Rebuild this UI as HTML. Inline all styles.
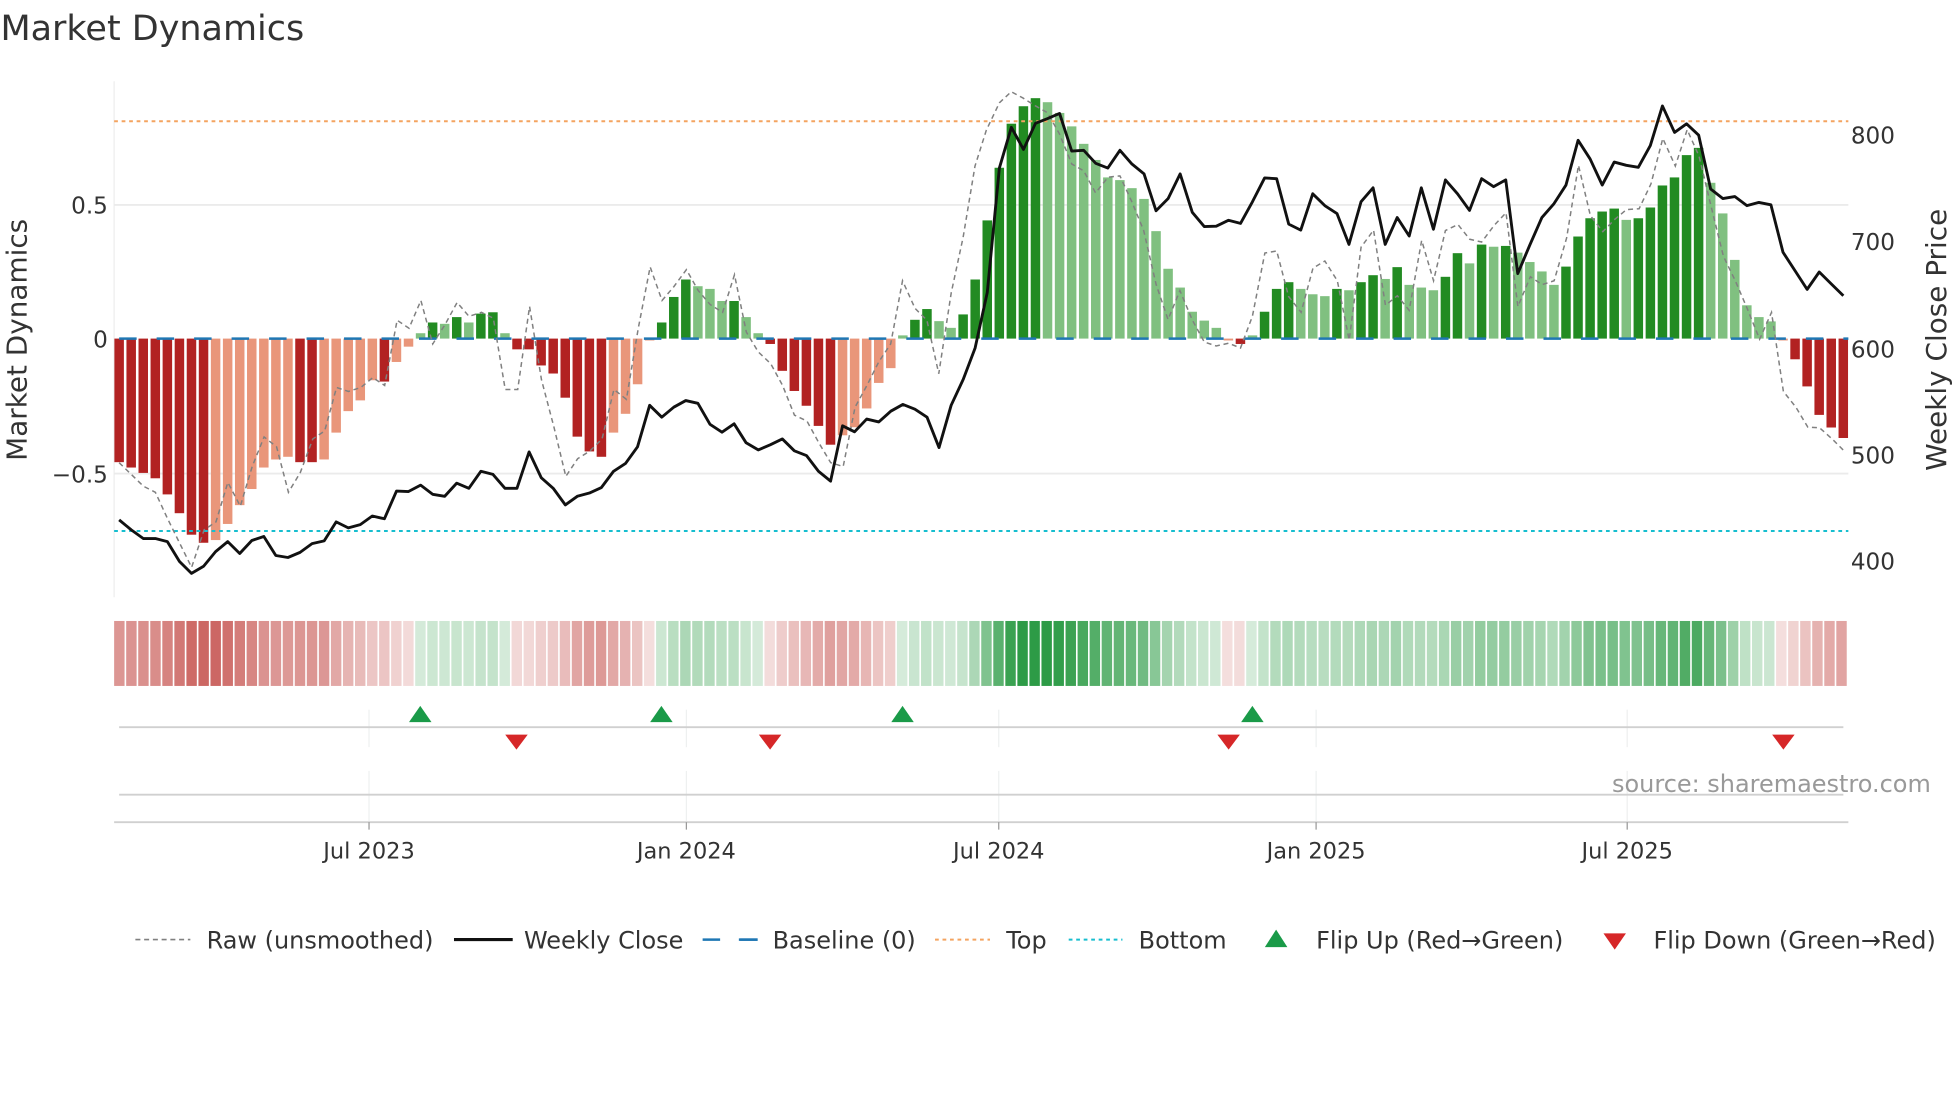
<!DOCTYPE html>
<html><head><meta charset="utf-8"><style>
html,body{margin:0;padding:0;background:#fff;}
svg{display:block;font-family:"DejaVu Sans","Liberation Sans",sans-serif;}
</style></head><body>
<svg id="s" width="1960" height="1102" viewBox="0 0 1568 882" xmlns="http://www.w3.org/2000/svg">
<rect width="1568" height="882" fill="#fff"/>
<text x="0" y="32" font-size="28" fill="#333">Market Dynamics</text>
<line x1="91" y1="65" x2="91" y2="478" stroke="#eee" stroke-width="1"/>
<line x1="91" y1="164" x2="1479" y2="164" stroke="#ebebeb" stroke-width="1.5"/>
<line x1="91" y1="379" x2="1479" y2="379" stroke="#ebebeb" stroke-width="1.5"/>
<g id="bars"></g>
<line x1="91" y1="97" x2="1479" y2="97" stroke="#f4a460" stroke-width="1.6" stroke-dasharray="3,3"/>
<line x1="91" y1="425" x2="1479" y2="425" stroke="#17becf" stroke-width="1.6" stroke-dasharray="3,3"/>
<line x1="91" y1="271" x2="1479" y2="271" stroke="#1f77b4" stroke-width="2" stroke-dasharray="14,16" stroke-dashoffset="-4"/>
<polyline id="raw" fill="none" stroke="#808080" stroke-width="1.2" stroke-dasharray="4,3"/>
<polyline id="price" fill="none" stroke="#111" stroke-width="2.3" stroke-linejoin="round"/>
<g font-size="18.5" fill="#333">
<text x="86" y="171" text-anchor="end">0.5</text>
<text x="86" y="278" text-anchor="end">0</text>
<text x="86" y="386" text-anchor="end">−0.5</text>
<text x="1481" y="115">800</text>
<text x="1481" y="200">700</text>
<text x="1481" y="286">600</text>
<text x="1481" y="371">500</text>
<text x="1481" y="456">400</text>
</g>
<text transform="translate(21,272) rotate(-90)" font-size="22.3" fill="#333" text-anchor="middle">Market Dynamics</text>
<text transform="translate(1557,272) rotate(-90)" font-size="22.3" fill="#333" text-anchor="middle">Weekly Close Price</text>
<g id="heat"></g>
<g stroke="#eef0f0" stroke-width="1">
<line x1="295" y1="568" x2="295" y2="598"/><line x1="549" y1="568" x2="549" y2="598"/><line x1="799" y1="568" x2="799" y2="598"/><line x1="1053" y1="568" x2="1053" y2="598"/><line x1="1302" y1="568" x2="1302" y2="598"/>
<line x1="295" y1="617" x2="295" y2="657"/><line x1="549" y1="617" x2="549" y2="657"/><line x1="799" y1="617" x2="799" y2="657"/><line x1="1053" y1="617" x2="1053" y2="657"/><line x1="1302" y1="617" x2="1302" y2="657"/>
</g>
<line x1="95" y1="582" x2="1475" y2="582" stroke="#d0d0d0" stroke-width="1.5"/>
<line x1="95" y1="636" x2="1475" y2="636" stroke="#d0d0d0" stroke-width="1.5"/>
<line x1="91" y1="658" x2="1479" y2="658" stroke="#d0d0d0" stroke-width="1.5"/>
<g fill="#1a9a48">
<polygon points="327,578 336,565 345,578"/><polygon points="520,578 529,565 538,578"/><polygon points="713,578 722,565 731,578"/><polygon points="993,578 1002,565 1011,578"/>
</g>
<g fill="#d62728">
<polygon points="404,588 422,588 413,600"/><polygon points="607,588 625,588 616,600"/><polygon points="974,588 992,588 983,600"/><polygon points="1418,588 1436,588 1427,600"/>
</g>
<text x="1545" y="634" text-anchor="end" font-size="19.2" fill="#999">source: sharemaestro.com</text>
<g stroke="#999" stroke-width="1"><line x1="295" y1="658" x2="295" y2="664"/><line x1="549" y1="658" x2="549" y2="664"/><line x1="799" y1="658" x2="799" y2="664"/><line x1="1053" y1="658" x2="1053" y2="664"/><line x1="1302" y1="658" x2="1302" y2="664"/></g>
<g font-size="18" fill="#333" text-anchor="middle">
<text x="295" y="687">Jul 2023</text><text x="549" y="687">Jan 2024</text><text x="799" y="687">Jul 2024</text><text x="1053" y="687">Jan 2025</text><text x="1302" y="687">Jul 2025</text>
</g>
<g font-size="19.2" fill="#333">
<line x1="108" y1="752" x2="152" y2="752" stroke="#808080" stroke-width="1.3" stroke-dasharray="4,3"/>
<text x="165" y="759">Raw (unsmoothed)</text>
<line x1="363" y1="752" x2="410" y2="752" stroke="#111" stroke-width="2.5"/>
<text x="419" y="759">Weekly Close</text>
<line x1="562" y1="752" x2="606" y2="752" stroke="#1f77b4" stroke-width="2" stroke-dasharray="14,16"/>
<line x1="591" y1="752" x2="606" y2="752" stroke="#1f77b4" stroke-width="2"/>
<text x="618" y="759">Baseline (0)</text>
<line x1="748" y1="752" x2="792" y2="752" stroke="#f4a460" stroke-width="1.6" stroke-dasharray="3,3"/>
<text x="805" y="759">Top</text>
<line x1="855" y1="752" x2="898" y2="752" stroke="#17becf" stroke-width="1.6" stroke-dasharray="3,3"/>
<text x="911" y="759">Bottom</text>
<polygon points="1012,758 1021,744 1030,758" fill="#1a9a48"/>
<text x="1053" y="759">Flip Up (Red→Green)</text>
<polygon points="1283,747 1301,747 1292,760" fill="#d62728"/>
<text x="1323" y="759">Flip Down (Green→Red)</text>
</g>
</svg>
<script>
var V=[-0.46,-0.48,-0.50,-0.52,-0.58,-0.65,-0.73,-0.76,-0.75,-0.69,-0.62,-0.56,-0.48,-0.45,-0.44,-0.46,-0.46,-0.45,-0.35,-0.27,-0.23,-0.155,-0.16,-0.087,-0.03,0.02,0.06,0.055,0.08,0.06,0.093,0.098,0.02,-0.04,-0.04,-0.10,-0.13,-0.22,-0.365,-0.42,-0.44,-0.35,-0.28,-0.17,-0.005,0.06,0.155,0.22,0.195,0.185,0.14,0.14,0.08,0.02,-0.02,-0.12,-0.195,-0.25,-0.325,-0.395,-0.36,-0.33,-0.26,-0.165,-0.11,0.012,0.07,0.11,0.065,0.04,0.09,0.22,
0.44,0.636,0.80,0.865,0.895,0.88,0.84,0.79,0.725,0.665,0.60,0.59,0.56,0.52,0.40,0.26,0.19,0.10,0.067,0.04,-0.005,-0.02,0.012,0.10,0.185,0.21,0.185,0.165,0.158,0.185,0.18,0.21,0.236,0.222,0.266,0.20,0.19,0.18,0.23,0.318,0.28,0.35,0.342,0.345,0.32,0.285,0.25,0.20,0.268,0.38,0.448,0.473,0.484,0.442,0.448,0.488,0.57,0.60,0.683,0.71,0.58,0.466,0.293,0.124,0.08,0.064,-0.003,-0.077,-0.178,-0.284,-0.331,-0.37];
var P1=[1315,1340,1362,1362,1370,1420,1450,1432,1395,1370,1400,1367,1357,1405,1410,1397,1375,1368,1320,1335,1327,1305,1312,1242,1243,1227,1250,1255,1222,1235,1192,1200,1235,1235,1143,1208,1235,1277,1255,1247,1233,1192,1172,1130,1025,1055,1030,1013,1020,1073,1093,1072,1120,1138,1125,1110,1140,1152,1192,1217,1077,1092,1060,1067,1040,1023,1035,1055,1132,1025,960,880];
var P2=[740,425,322,378,312,300,287,382,380,413,425,380,415,440,533,502,440,537,573,572,557,565,510,450,452,567,582,490,520,540,618,510,475,618,550,597,475,580,455,490,532,452,472,455,692,620,550,515,468,355,402,468,410,418,423,368,268,335,313,342,478,502,497,520,512,518,638,685,732,688,718,748];
var R1=[190,1170,229,1230,248,1245,267,1310,306,1435,326,1340,345,1320,364,1220,384,1280,403,1180,422,1105,442,1130,461,1245,480,1195,500,1110,519,1090,538,980,557,990,577,980,596,955,615,975,635,810,654,830,673,760,692,870,712,820,731,765,750,800,770,790,789,805,808,985,828,985,847,775,866,960,886,1080,905,1205,924,1160,944,1140,963,1110,982,985,1002,1010,1021,830,1040,675,1059,760,1078,725,1098,682,1117,735,1136,770,1156,790,1175,695,1194,840,1213,890,1233,920,1252,975,1271,1050,1291,1065,1310,1120,1329,1170,1349,1180,1368,1030,1387,975,1406,915,1425,870,1444,710,1464,780,1483,810,1502,945,1522,740,1541,600,1560,420];
var R2=[10,330,31,260,50,232,69,248,89,268,108,285,127,338,147,415,166,432,185,488,205,448,224,445,243,510,262,583,282,720,301,808,320,735,340,810,359,865,378,875,398,868,417,880,436,800,456,640,475,635,494,750,514,790,533,678,552,660,572,710,591,860,610,625,630,582,649,772,668,748,687,785,707,608,726,710,745,583,765,568,784,605,803,612,823,570,842,538,861,775,881,700,900,720,919,710,939,602,958,418,977,545,997,586,1016,555,1035,530,1055,528,1074,465,1093,350,1113,420,1132,328,1151,395,1170,520,1190,648,1209,710,1228,780,1248,858,1267,790,1286,990,1306,1030,1325,1080,1344,1082,1364,1110,1383,1140];
var NS="http://www.w3.org/2000/svg";
function el(t,a,p){var e=document.createElementNS(NS,t);for(var k in a)e.setAttribute(k,a[k]);p.appendChild(e);return e;}
var bars=document.getElementById('bars'),heat=document.getElementById('heat');
function X(i){return 95+9.65*i;}
for(var i=0;i<V.length;i++){
 var v=V[i],pv=i>0?V[i-1]:v,dark=Math.abs(v)>=Math.abs(pv)-0.001;
 var c=v>=0?(dark?'#228b22':'#80c080'):(dark?'#b22222':'#e9967a');
 var h=Math.abs(v)*215;if(h<1.5)h=1.5;
 el('rect',{x:X(i)-3.8,y:v>=0?271-h:271,width:7.6,height:h,fill:c},bars);
 var a=Math.min(0.95,0.18+0.8*Math.abs(v)/0.9);
 var hc=v>=0?'rgba(34,150,60,'+a+')':'rgba(185,45,40,'+(a*0.85)+')';
 el('rect',{x:91+i*(1388/144),y:497,width:1388/144-1.3,height:52,fill:hc},heat);
}
var pts=[];
for(var i=0;i<72;i++)pts.push(X(i).toFixed(1)+','+(P1[i]/3.16).toFixed(1));
for(var i=0;i<72;i++)pts.push(X(72+i).toFixed(1)+','+(P2[i]/3.16).toFixed(1));
document.getElementById('price').setAttribute('points',pts.join(' '));
var rp=[];
for(var i=0;i<R1.length;i+=2)rp.push((R1[i]/2).toFixed(1)+','+(R1[i+1]/3.16).toFixed(1));
for(var i=0;i<R2.length;i+=2)rp.push((784+R2[i]/2).toFixed(1)+','+(R2[i+1]/3.16).toFixed(1));
document.getElementById('raw').setAttribute('points',rp.join(' '));
</script>
</body></html>
